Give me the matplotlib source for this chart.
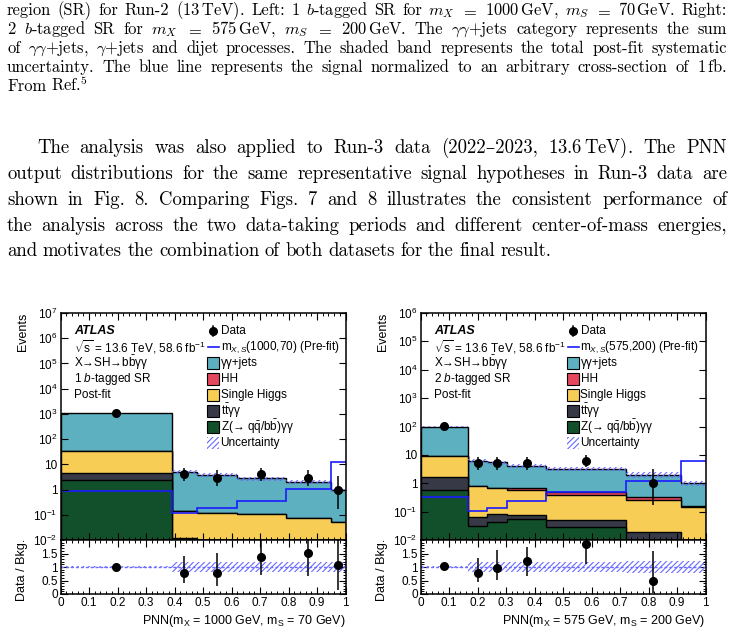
import numpy as np
import matplotlib
matplotlib.use("Agg")
import matplotlib.pyplot as plt
from matplotlib.patches import Rectangle
from matplotlib.lines import Line2D
from matplotlib.ticker import FixedLocator, MultipleLocator, NullLocator

W, H = 734, 637

plt.rcParams['font.family'] = ['Liberation Sans', 'DejaVu Sans']
plt.rcParams['mathtext.fontset'] = 'custom'
plt.rcParams['mathtext.rm'] = 'Liberation Sans'
plt.rcParams['mathtext.it'] = 'Liberation Sans:italic'
plt.rcParams['mathtext.bf'] = 'Liberation Sans:bold'
plt.rcParams['hatch.linewidth'] = 0.8

# ---------------- page text ----------------
caption = [
    r"region (SR) for Run-2 (13$\,$TeV). Left: 1 $b$-tagged SR for $m_X$ $=$ 1000$\,$GeV, $m_S$ $=$ 70$\,$GeV. Right:",
    r"2 $b$-tagged SR for $m_X$ $=$ 575$\,$GeV, $m_S$ $=$ 200$\,$GeV. The $\gamma\gamma$+jets category represents the sum",
    r"of $\gamma\gamma$+jets, $\gamma$+jets and dijet processes. The shaded band represents the total post-fit systematic",
    r"uncertainty. The blue line represents the signal normalized to an arbitrary cross-section of 1$\,$fb.",
    r"From Ref.$^5$",
]
paragraph = [
    r"The analysis was also applied to Run-3 data (2022–2023, 13.6$\,$TeV). The PNN",
    r"output distributions for the same representative signal hypotheses in Run-3 data are",
    r"shown in Fig. 8. Comparing Figs. 7 and 8 illustrates the consistent performance of",
    r"the analysis across the two data-taking periods and different center-of-mass energies,",
    r"and motivates the combination of both datasets for the final result.",
]

# ---------------- left: 1 b-tagged SR, mX=1000, mS=70 ----------------
edges_l = [0, 0.39, 0.48, 0.62, 0.79, 0.95, 1.0]
gg_l = [1036, 4.75, 3.78, 2.64, 1.87, 0.87]
hh_l = [0.3, 0.004, 0.003, 0.003, 0.002, 0.001]
h_l = [29.5, 0.13, 0.12, 0.105, 0.075, 0.052]
tt_l = [2.2, 0.012, 0, 0, 0, 0]
z_l = [2.3, 0, 0, 0, 0, 0]
sig_l = [0.86, 0.12, 0.18, 0.36, 1.08, 12.5]
data_l = [1100, 4, 3, 4, 3, 1]
data_lo_l = [33, 1.91, 1.63, 1.91, 1.63, 0.83]
data_hi_l = [34, 3.16, 2.92, 3.16, 2.92, 2.30]
ratio_l = [1.0, 0.79, 0.77, 1.38, 1.51, 1.07]
ratio_lo_l = [0.03, 0.39, 0.46, 0.68, 0.84, 0.92]
ratio_hi_l = [0.03, 0.62, 0.74, 1.15, 1.5, 2.5]
unc_l = [0.02, 0.18, 0.18, 0.18, 0.18, 0.18]

# ---------------- right: 2 b-tagged SR, mX=575, mS=200 ----------------
edges_r = [0, 0.167, 0.234, 0.304, 0.44, 0.722, 0.913, 1.0]
gg_r = [88.5, 5.37, 4.73, 3.4, 2.72, 1.68, 0.85]
hh_r = [0.05, 0.01, 0.01, 0.12, 0.095, 0.063, 0.002]
h_r = [7.7, 0.754, 0.578, 0.502, 0.334, 0.237, 0.15]
tt_r = [1.12, 0.034, 0.040, 0.023, 0.0215, 0.0196, 0]
z_r = [0.58, 0.032, 0.042, 0.055, 0.0295, 0, 0]
sig_r = [0.32, 0.105, 0.13, 0.237, 0.49, 1.23, 6.2]
data_r = [103, 5, 5, 5, 6, 1, np.nan]
data_lo_r = [10.2, 2.16, 2.16, 2.16, 2.38, 0.83, 0]
data_hi_r = [10.7, 3.38, 3.38, 3.38, 3.62, 2.30, 0]
ratio_r = [1.04, 0.79, 0.95, 1.22, 1.85, 0.47, np.nan]
ratio_lo_r = [0.04, 0.36, 0.43, 0.55, 0.75, 0.42, 0]
ratio_hi_r = [0.04, 0.53, 0.68, 0.53, 0.4, 1.13, 0]
unc_r = [0.03, 0.17, 0.17, 0.17, 0.17, 0.21, 0.21]

bkg_names = ["Z(→ q$\\bar{\\rm q}$/b$\\bar{\\rm b}$)γγ", "t$\\bar{\\rm t}$γγ", "Single Higgs", "HH", "γγ+jets"]
bkg_colors = ['#11502a', '#373a46', '#f7cd56', '#e5475e', '#5cb0c0']
sig_color = '#1a1aff'
unc_color = '#6a6aff'
FS = 8.5

fig = plt.figure(figsize=(W / 100, H / 100), dpi=100)
renderer = fig.canvas.get_renderer()


def text_line(s, y, x0, x1, size, justify=True):
    words = s.split(' ')
    objs = [fig.text(0, 1 - y / H, w, fontsize=size, family=['cmr10', 'DejaVu Serif'],
                     math_fontfamily='cm', va='baseline', ha='left') for w in words]
    widths = [o.get_window_extent(renderer).width for o in objs]
    if justify and len(words) > 1:
        gap = (x1 - x0 - sum(widths)) / (len(words) - 1)
    else:
        gap = size * 100 / 72 * 0.3
    x = x0
    for o, w in zip(objs, widths):
        o.set_x(x / W)
        x += w + gap


cap_base = [15, 34, 53, 72, 91]
for i, s in enumerate(caption):
    text_line(s, cap_base[i], 7, 727, 11.9, justify=(i < len(caption) - 1))
par_base = [153, 179, 205, 231, 256]
for i, s in enumerate(paragraph):
    text_line(s, par_base[i], 37 if i == 0 else 7, 727, 13.5, justify=(i < len(paragraph) - 1))


def px_axes(l, t, r, b):
    return fig.add_axes([l / W, 1 - b / H, (r - l) / W, (b - t) / H])


def style(ax):
    ax.tick_params(which='both', direction='in', top=True, right=True, labelsize=FS, pad=2)
    ax.tick_params(which='major', length=5, width=0.8)
    ax.tick_params(which='minor', length=2.5, width=0.7)
    for sp in ax.spines.values():
        sp.set_linewidth(1.1)


def draw(l, r, ymax, edges, comps, sig, data, dlo, dhi, ratio, rlo, rhi, unc,
         sig_label, info, xlabel):
    ax = px_axes(l, 313, r, 540)
    rx = px_axes(l, 540, r, 594)
    edges = np.array(edges)
    centers = 0.5 * (edges[1:] + edges[:-1])
    cum = np.cumsum(np.array(comps, dtype=float), axis=0)
    floor = 1e-4
    for k in reversed(range(len(comps))):
        ax.stairs(np.maximum(cum[k], floor), edges, baseline=floor, fill=True,
                  facecolor=bkg_colors[k], edgecolor='k', lw=1.0)
    total = cum[-1]
    u = np.array(unc)
    ax.stairs(total * (1 + u), edges, baseline=total * (1 - u), fill=True, facecolor='none',
              edgecolor=unc_color, hatch='//////', lw=0)
    ax.stairs(sig, edges, baseline=None, color=sig_color, lw=1.2)
    ax.errorbar(centers, data, yerr=[dlo, dhi], fmt='o', color='k', ms=5.5, elinewidth=1.1,
                capsize=0)
    ax.set_yscale('log')
    ax.set_xlim(0, 1)
    ax.set_ylim(1e-2, ymax)
    decades = [10.0 ** k for k in range(-2, int(np.log10(ymax)) + 1)]
    ax.yaxis.set_major_locator(FixedLocator(decades))
    ax.yaxis.set_minor_locator(NullLocator())
    labels = []
    for d in decades:
        e = int(round(np.log10(d)))
        labels.append('1' if e == 0 else '10' if e == 1 else '$10^{%d}$' % e)
    ax.set_yticklabels(labels)
    ax.xaxis.set_major_locator(MultipleLocator(0.1))
    ax.xaxis.set_minor_locator(MultipleLocator(0.02))
    ax.tick_params(labelbottom=False)
    style(ax)
    ax.set_ylabel('Events', fontsize=FS + 0.5, loc='top')
    ax.yaxis.set_label_coords(-0.11, 1.0)

    # ratio panel
    rx.stairs(1 + u, edges, baseline=1 - u, fill=True, facecolor='none',
              edgecolor=unc_color, hatch='//////', lw=0)
    rx.axhline(1, color=unc_color, lw=1.0, ls=(0, (2, 1.5)))
    rx.errorbar(centers, ratio, yerr=[rlo, rhi], fmt='o', color='k', ms=5.5, elinewidth=1.1,
                capsize=0)
    rx.set_xlim(0, 1)
    rx.set_ylim(0, 2.0)
    rx.yaxis.set_major_locator(FixedLocator([0, 0.5, 1, 1.5]))
    rx.set_yticklabels(['0', '0.5', '1', '1.5'])
    rx.yaxis.set_minor_locator(MultipleLocator(0.1))
    rx.xaxis.set_minor_locator(MultipleLocator(0.02))
    rx.set_xticks(np.round(np.arange(0, 1.01, 0.1), 1))
    rx.set_xticklabels(['0'] + ['%.1f' % v for v in np.arange(0.1, 0.95, 0.1)] + ['1'])
    style(rx)
    rx.set_ylabel('Data / Bkg.', fontsize=FS + 0.5)
    rx.yaxis.set_label_coords(-0.115, 0.45)
    rx.set_xlabel(xlabel, fontsize=FS + 0.5, loc='right')
    rx.xaxis.set_label_coords(1.0, -0.36)

    # labels and legend (pixel placement)
    def fx(x):
        return (x - l) / (r - l)

    def fy(y):
        return 1 - (y - 313) / 227

    tx = l + 13.5
    ax.text(fx(tx), fy(331), 'ATLAS', transform=ax.transAxes, fontsize=FS + 0.5,
            fontweight='bold', style='italic', va='center')
    for i, s in enumerate(info):
        ax.text(fx(tx), fy(347 + 16 * i), s, transform=ax.transAxes, fontsize=FS, va='center')

    bx = l + 146
    rows = [331 + 16 * i for i in range(8)]
    ax.add_line(Line2D([fx(bx + 6.3)], [fy(rows[0])], marker='o', color='k', ms=5.5,
                       transform=ax.transAxes))
    ax.add_line(Line2D([fx(bx + 6.3)] * 2, [fy(rows[0] - 5), fy(rows[0] + 5)], color='k', lw=1.1,
                       transform=ax.transAxes))
    ax.text(fx(bx + 14), fy(rows[0]), 'Data', transform=ax.transAxes, fontsize=FS, va='center')
    ax.add_line(Line2D([fx(bx + 1), fx(bx + 12.6)], [fy(rows[1])] * 2, color=sig_color, lw=1.2,
                       transform=ax.transAxes))
    ax.text(fx(bx + 14), fy(rows[1]), sig_label, transform=ax.transAxes, fontsize=FS, va='center')
    for j, k in enumerate(reversed(range(len(comps)))):
        y = rows[2 + j]
        ax.add_patch(Rectangle((fx(bx), fy(y + 6)), 12.6 / (r - l), 12 / 227,
                               transform=ax.transAxes, facecolor=bkg_colors[k], edgecolor='k',
                               lw=0.8))
        ax.text(fx(bx + 14), fy(y), bkg_names[k], transform=ax.transAxes, fontsize=FS,
                va='center')
    y = rows[7]
    ax.add_patch(Rectangle((fx(bx), fy(y + 6)), 12.6 / (r - l), 12 / 227,
                           transform=ax.transAxes, facecolor='none', edgecolor=unc_color,
                           hatch='//////', lw=0))
    ax.text(fx(bx + 14), fy(y), 'Uncertainty', transform=ax.transAxes, fontsize=FS, va='center')


info_l = ['$\\sqrt{\\rm s}$ = 13.6 TeV, 58.6 fb$^{-1}$', 'X→SH→b$\\bar{\\rm b}$γγ',
          '1 $b$-tagged SR', 'Post-fit']
info_r = ['$\\sqrt{\\rm s}$ = 13.6 TeV, 58.6 fb$^{-1}$', 'X→SH→b$\\bar{\\rm b}$γγ',
          '2 $b$-tagged SR', 'Post-fit']

draw(60.5, 345.5, 1e7, edges_l, [z_l, tt_l, h_l, hh_l, gg_l], sig_l, data_l, data_lo_l,
     data_hi_l, ratio_l, ratio_lo_l, ratio_hi_l, unc_l, 'm$_{X,S}$(1000,70) (Pre-fit)', info_l,
     'PNN(m$_{\\rm X}$ = 1000 GeV, m$_{\\rm S}$ = 70 GeV)')
draw(420.5, 705.5, 1e6, edges_r, [z_r, tt_r, h_r, hh_r, gg_r], sig_r, data_r, data_lo_r,
     data_hi_r, ratio_r, ratio_lo_r, ratio_hi_r, unc_r, 'm$_{X,S}$(575,200) (Pre-fit)', info_r,
     'PNN(m$_{\\rm X}$ = 575 GeV, m$_{\\rm S}$ = 200 GeV)')

fig.savefig('out.png', dpi=100)
